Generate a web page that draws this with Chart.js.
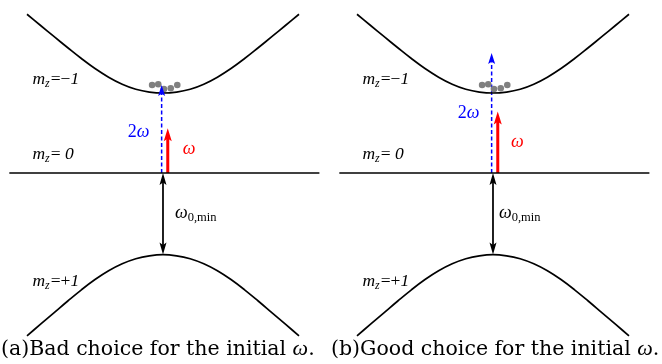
<!DOCTYPE html>
<html>
<head>
<meta charset="utf-8">
<script src="https://cdn.jsdelivr.net/npm/chart.js@4.4.1/dist/chart.umd.min.js"></script>
<style>
  body { margin: 0; background: #fff; width: 662px; height: 364px; position: relative; overflow: hidden; }
  .panel { position: absolute; top: 0; width: 331px; height: 338px; }
  .cap { position: absolute; top: 335px; font-family: "DejaVu Serif", serif; font-size: 20.5px; white-space: nowrap; color: #000; }
  .cap i { font-family: "Liberation Serif", serif; font-size: 22px; }
</style>
</head>
<body>
<div class="panel" style="left:0"><canvas id="panelA"></canvas></div>
<div class="panel" style="left:330px"><canvas id="panelB"></canvas></div>
<div class="cap" style="left:1px">(a)Bad choice for the initial <i>ω</i>.</div>
<div class="cap" style="left:331px">(b)Good choice for the initial <i>ω</i>.</div>
<script>
// band structure (energy in units of the gap, same in both panels)
const momentum  = [-1.0, -0.9, -0.8, -0.7, -0.6, -0.5, -0.4, -0.3, -0.2, -0.1, 0.0,
                    0.1, 0.2, 0.3, 0.4, 0.5, 0.6, 0.7, 0.8, 0.9, 1.0];
const bandMinus = [1.984, 1.844, 1.704, 1.566, 1.431, 1.306, 1.198, 1.11, 1.047, 1.012, 1.0,
                   1.012, 1.047, 1.11, 1.198, 1.306, 1.431, 1.566, 1.704, 1.844, 1.984];
const bandPlus  = [-2.035, -1.89, -1.745, -1.6, -1.46, -1.332, -1.222, -1.135, -1.072, -1.035, -1.02,
                   -1.035, -1.072, -1.135, -1.222, -1.332, -1.46, -1.6, -1.745, -1.89, -2.035];
const zeroLineX = [-1.13, 1.15];
const gapEnds   = [0, -1.02];

// condensate atoms sitting at the bottom of the m_z=-1 band
const atomX = [-0.08, -0.035, 0.007, 0.057, 0.105];
const atomE = [1.10, 1.11, 1.05, 1.06, 1.10];

// drive arrows, [panel a, panel b]
const twoOmegaTip = [1.10, 1.50];
const omegaTip    = [0.56, 0.77];

const levelText = ['−1', ' 0', '+1'];
const levelE    = [1.11, 0.18, -1.41];

// label placement per panel
const labelPos = {
  levelX: -0.96,
  twoOmega: [{x: -0.10, y: 0.45}, {x: -0.10, y: 0.69}],
  omega:    [{x: 0.145, y: 0.24}, {x: 0.132, y: 0.325}],
  gap:      [{x: 0.088, y: -0.56}, {x: 0.044, y: -0.56}]
};

const serif = '"Liberation Serif"';

const arrowHeads = {
  id: 'arrowHeads',
  afterDatasetUpdate(chart, args) {
    const ds = chart.data.datasets[args.index];
    if (!ds.heads) return;
    const pts = args.meta.data;
    args.meta.$tips = ds.heads.map(i => {
      const p = pts[i], q = pts[i === 0 ? 1 : i - 1];
      const dx = p.x - q.x, dy = p.y - q.y, d = Math.hypot(dx, dy) || 1;
      const tip = {x: p.x, y: p.y, ux: dx / d, uy: dy / d};
      p.x -= tip.ux * ds.headLen * 0.75;
      p.y -= tip.uy * ds.headLen * 0.75;
      return tip;
    });
  },
  afterDatasetsDraw(chart) {
    const ctx = chart.ctx;
    chart.data.datasets.forEach((ds, i) => {
      const meta = chart.getDatasetMeta(i);
      if (!meta.$tips) return;
      ctx.save();
      ctx.fillStyle = ds.borderColor;
      meta.$tips.forEach(t => {
        const L = ds.headLen, W = ds.headWidth;
        const nx = -t.uy, ny = t.ux;
        ctx.beginPath();
        ctx.moveTo(t.x, t.y);
        ctx.lineTo(t.x - t.ux * L + nx * W, t.y - t.uy * L + ny * W);
        ctx.lineTo(t.x - t.ux * L * 0.8, t.y - t.uy * L * 0.8);
        ctx.lineTo(t.x - t.ux * L - nx * W, t.y - t.uy * L - ny * W);
        ctx.closePath();
        ctx.fill();
      });
      ctx.restore();
    });
  }
};

function drawRich(ctx, pieces, x, y, color, align) {
  ctx.save();
  ctx.fillStyle = color;
  ctx.textBaseline = 'alphabetic';
  let w = 0;
  pieces.forEach(p => { ctx.font = p.font; w += ctx.measureText(p.t).width + (p.gap || 0); });
  let cx = align === 'right' ? x - w : x;
  pieces.forEach(p => {
    ctx.font = p.font;
    ctx.fillText(p.t, cx, y + (p.dy || 0));
    cx += ctx.measureText(p.t).width + (p.gap || 0);
  });
  ctx.restore();
}

const diagramText = {
  id: 'diagramText',
  afterDraw(chart, args, opts) {
    const ctx = chart.ctx, sx = chart.scales.x, sy = chart.scales.y;
    const k = opts.panel;
    levelText.forEach((lv, i) => {
      const pieces = [
        {t: 'm', font: 'italic 17.5px ' + serif},
        {t: 'z', font: 'italic 12px ' + serif, dy: 3, gap: 1},
        {t: '=', font: '17.5px ' + serif},
        {t: lv[0], font: '17.5px ' + serif},
        {t: lv.slice(1), font: 'italic 17.5px ' + serif}
      ];
      drawRich(ctx, pieces, sx.getPixelForValue(labelPos.levelX), sy.getPixelForValue(levelE[i]), '#000');
    });
    const tw = labelPos.twoOmega[k];
    drawRich(ctx, [{t: '2', font: '18px ' + serif}, {t: 'ω', font: 'italic 18px ' + serif}],
      sx.getPixelForValue(tw.x), sy.getPixelForValue(tw.y), '#0000ff', 'right');
    const om = labelPos.omega[k];
    drawRich(ctx, [{t: 'ω', font: 'italic 18px ' + serif}],
      sx.getPixelForValue(om.x), sy.getPixelForValue(om.y), '#ff0000');
    const gp = labelPos.gap[k];
    drawRich(ctx, [{t: 'ω', font: 'italic 18px ' + serif}, {t: '0,min', font: '12.5px ' + serif, dy: 3}],
      sx.getPixelForValue(gp.x), sy.getPixelForValue(gp.y), '#000');
  }
};

function pairs(xs, ys) { return xs.map((x, i) => ({x: x, y: ys[i]})); }

function makePanel(id, k) {
  const datasets = [
    {data: pairs(momentum, bandMinus), showLine: true, borderColor: '#000', borderWidth: 1.7,
     pointRadius: 0, tension: 0.4},
    {data: pairs(momentum, bandPlus), showLine: true, borderColor: '#000', borderWidth: 1.7,
     pointRadius: 0, tension: 0.4},
    {data: pairs(zeroLineX, [0, 0]), showLine: true, borderColor: '#000', borderWidth: 1.7, pointRadius: 0},
    {data: pairs(atomX, atomE), showLine: false, pointRadius: 3.3, pointBorderWidth: 0,
     pointBackgroundColor: '#808080', borderColor: '#808080'},
    {data: pairs([0, 0], gapEnds), showLine: true, borderColor: '#000', borderWidth: 1, pointRadius: 0,
     heads: [0, 1], headLen: 12, headWidth: 3.5},
    {data: pairs([-0.01, -0.01], [0, twoOmegaTip[k]]), showLine: true, borderColor: '#0000ff',
     borderWidth: 1.5, borderDash: [4, 2.5], pointRadius: 0, heads: [1], headLen: 11, headWidth: 3.5},
    {data: pairs([0.035, 0.035], [0, omegaTip[k]]), showLine: true, borderColor: '#ff0000',
     borderWidth: 3, pointRadius: 0, heads: [1], headLen: 13, headWidth: 4}
  ];
  return new Chart(document.getElementById(id), {
    type: 'scatter',
    data: {datasets: datasets},
    options: {
      responsive: true,
      maintainAspectRatio: false,
      animation: false,
      events: [],
      layout: {padding: 0, autoPadding: false},
      scales: {
        x: {type: 'linear', display: false, min: -1.1985, max: 1.2353},
        y: {type: 'linear', display: false, min: -2.0625, max: 2.1625}
      },
      plugins: {
        legend: {display: false},
        tooltip: {enabled: false},
        diagramText: {panel: k}
      }
    },
    plugins: [arrowHeads, diagramText]
  });
}

Promise.all([
  document.fonts.load('16px "Liberation Serif"', 'm=0'),
  document.fonts.load('italic 16px "Liberation Serif"', 'mzω1')
]).catch(() => {}).then(() => {
  makePanel('panelA', 0);
  makePanel('panelB', 1);
});
</script>
</body>
</html>
